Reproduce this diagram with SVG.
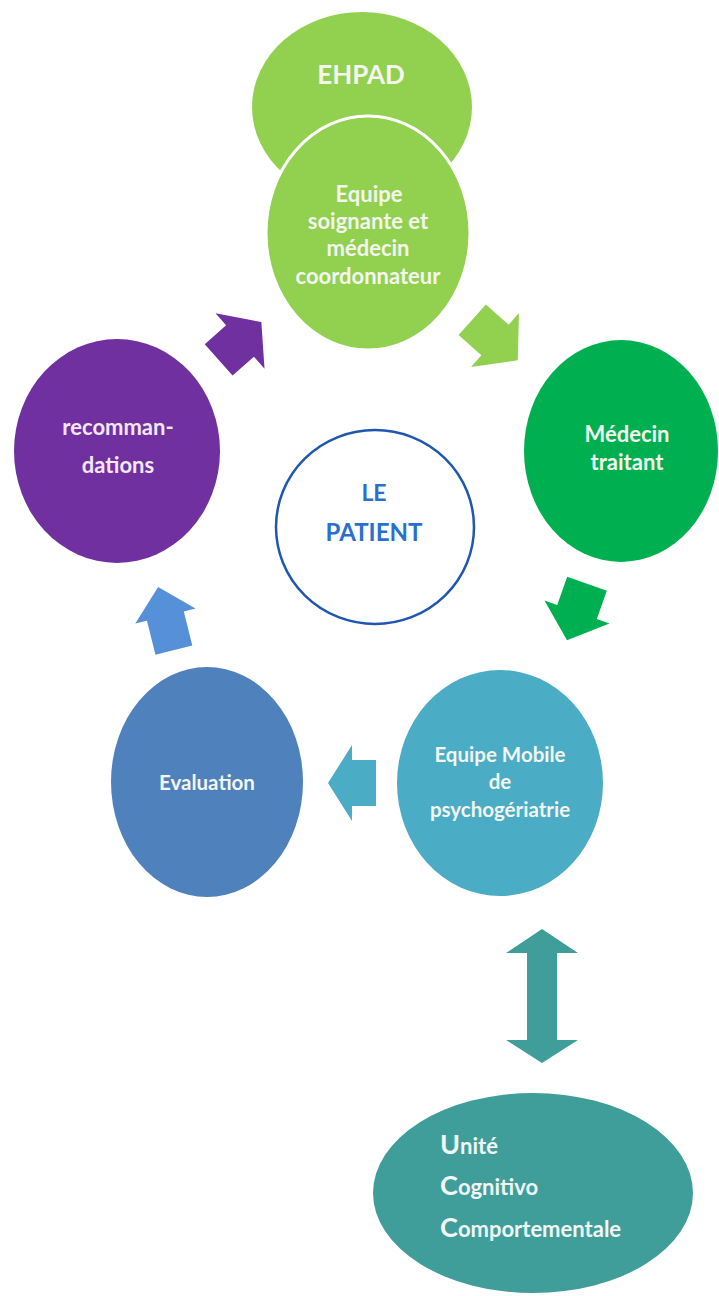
<svg xmlns="http://www.w3.org/2000/svg" width="719" height="1296" viewBox="0 0 719 1296">
<style>
  .t { font-family: Lato, "Open Sans", "Liberation Sans", sans-serif; font-weight: bold; fill: #f4f6ef; text-anchor: middle; }
  .ucc { font-family: Lato, "Open Sans", "Liberation Sans", sans-serif; font-weight: bold; fill: #f2f7f6; }
  .pt { font-family: Lato, "Open Sans", "Liberation Sans", sans-serif; font-weight: bold; fill: #2a6fd0; text-anchor: middle; }
</style>
<rect width="719" height="1296" fill="#ffffff"/>

<g id="connectors">
  <path id="arrow-recommandations-equipe" fill="#7030a0" transform="translate(240,341) rotate(-41.5)" d="M-28.5,-21 H0 V-37 L28.5,0 L0,37 V21 H-28.5 Z"/>
  <path id="arrow-equipe-medecin" fill="#92d050" transform="translate(495,340) rotate(41.7)" d="M-30.5,-20.5 H0 V-36 L30.5,0 L0,36 V20.5 H-30.5 Z"/>
  <path id="arrow-medecin-emp" fill="#00b050" transform="translate(577,612) rotate(109.5)" d="M-30,-21 H0 V-34.5 L30,0 L0,34.5 V21 H-30 Z"/>
  <path id="arrow-emp-evaluation" fill="#4bacc6" d="M376,760 H352 V745 L328,783 L352,821 V806 H376 Z"/>
  <path id="arrow-evaluation-recommandations" fill="#5590d8" transform="translate(166,618.5) rotate(-104)" d="M-32.5,-19 H2.5 V-31 L32.5,0 L2.5,31 V19 H-32.5 Z"/>
  <path id="arrow-emp-ucc" fill="#3f9e9a" d="M542,929 L578,953 H557 V1040 H578 L542,1063 L506,1040 H527 V953 H506 Z"/>
</g>

<g id="node-ehpad">
  <ellipse cx="362" cy="107" rx="110" ry="95" fill="#92d050"/>
  <text class="t" x="361" y="84" font-size="26">EHPAD</text>
</g>

<g id="node-equipe-soignante">
  <ellipse cx="368" cy="233" rx="102" ry="117" fill="#92d050" stroke="#ffffff" stroke-width="3"/>
  <text class="t" x="369" y="202" font-size="22">Equipe</text>
  <text class="t" x="368" y="229" font-size="22">soignante et</text>
  <text class="t" x="368" y="256" font-size="22">médecin</text>
  <text class="t" x="368" y="284" font-size="22">coordonnateur</text>
</g>

<g id="node-medecin-traitant">
  <ellipse cx="621" cy="451" rx="97" ry="111" fill="#00b050"/>
  <text class="t" x="627" y="442" font-size="22">Médecin</text>
  <text class="t" x="627" y="470" font-size="22">traitant</text>
</g>

<g id="node-patient">
  <ellipse cx="375" cy="527" rx="99" ry="97" fill="#ffffff" stroke="#1f56b0" stroke-width="2.5"/>
  <text class="pt" x="374" y="501" font-size="23">LE</text>
  <text class="pt" x="374" y="541" font-size="24">PATIENT</text>
</g>

<g id="node-recommandations">
  <ellipse cx="117" cy="451" rx="103" ry="112" fill="#7030a0"/>
  <text class="t" x="118" y="435" font-size="22" style="fill:#f3e8f5">recomman-</text>
  <text class="t" x="118" y="473" font-size="22" style="fill:#f3e8f5">dations</text>
</g>

<g id="node-evaluation">
  <ellipse cx="207" cy="782" rx="96" ry="115" fill="#4f81bd"/>
  <text class="t" x="207" y="790" font-size="20.5">Evaluation</text>
</g>

<g id="node-equipe-mobile">
  <ellipse cx="500" cy="783" rx="103" ry="113" fill="#4bacc6"/>
  <text class="t" x="500" y="762" font-size="20.5">Equipe Mobile</text>
  <text class="t" x="500" y="789" font-size="20.5">de</text>
  <text class="t" x="500" y="817" font-size="20.5">psychogériatrie</text>
</g>

<g id="node-ucc">
  <ellipse cx="533" cy="1193" rx="160" ry="100" fill="#3f9e9a"/>
  <text class="ucc" x="440" y="1154" font-size="22"><tspan font-size="27">U</tspan>nité</text>
  <text class="ucc" x="440" y="1195" font-size="22"><tspan font-size="27">C</tspan>ognitivo</text>
  <text class="ucc" x="440" y="1237" font-size="22"><tspan font-size="27">C</tspan>omportementale</text>
</g>
</svg>
